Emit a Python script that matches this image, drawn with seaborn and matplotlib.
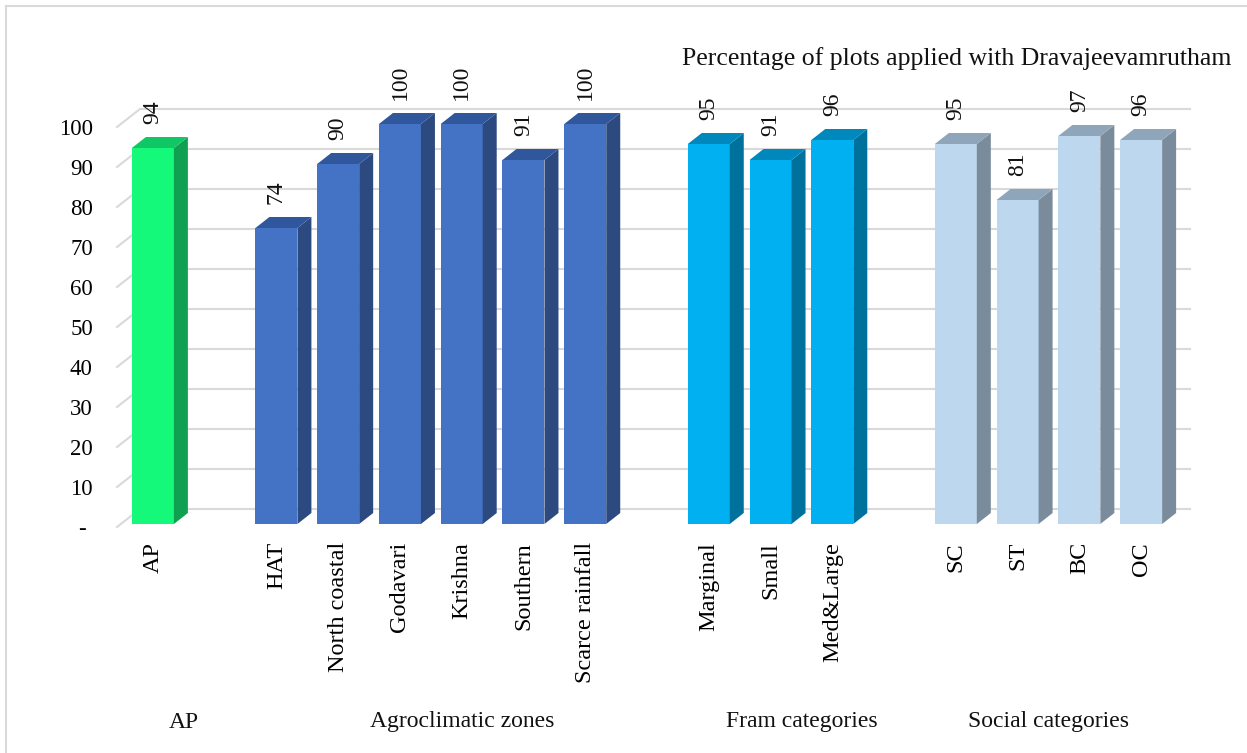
import numpy as np
import pandas as pd
import matplotlib
matplotlib.use("Agg")
import matplotlib.pyplot as plt
from matplotlib.patches import Polygon, Rectangle
from matplotlib.transforms import ScaledTranslation
import seaborn as sns

# ---------------- data ----------------
categories = ["AP", "HAT", "North coastal", "Godavari", "Krishna", "Southern",
              "Scarce rainfall", "Marginal", "Small", "Med&Large",
              "SC", "ST", "BC", "OC"]
values = [94, 74, 90, 100, 100, 91, 100, 95, 91, 96, 95, 81, 97, 96]
groups = ["AP"] + ["Agroclimatic zones"] * 6 + ["Fram categories"] * 3 + ["Social categories"] * 4
group_names = ["AP", "Agroclimatic zones", "Fram categories", "Social categories"]
title = "Percentage of plots applied with Dravajeevamrutham"
ytick_values = [0, 10, 20, 30, 40, 50, 60, 70, 80, 90, 100]
ytick_labels = ["- ", "10", "20", "30", "40", "50", "60", "70", "80", "90", "100"]

# spacer slots between groups (belong to preceding group)
order = ["AP", " ", "HAT", "North coastal", "Godavari", "Krishna", "Southern",
         "Scarce rainfall", "  ", "Marginal", "Small", "Med&Large", "   ",
         "SC", "ST", "BC", "OC"]
slot_group = ["AP", "AP"] + ["Agroclimatic zones"] * 7 + ["Fram categories"] * 4 + ["Social categories"] * 4

front = {"AP": "#14F97A", "Agroclimatic zones": "#4472C4",
         "Fram categories": "#00B0F0", "Social categories": "#BDD7EE"}
side = {"AP": "#10A052", "Agroclimatic zones": "#2C4A80",
        "Fram categories": "#00719C", "Social categories": "#7A8B9B"}
top = {"AP": "#10C765", "Agroclimatic zones": "#30569C",
       "Fram categories": "#0088BD", "Social categories": "#8FA5BA"}

df = pd.DataFrame({"category": categories, "value": values, "group": groups})

# ---------------- figure ----------------
W, H, DPI = 1247, 753, 100
plt.rcParams["font.family"] = ["Liberation Serif", "DejaVu Serif"]
fig = plt.figure(figsize=(W / DPI, H / DPI), dpi=DPI)
fig.patch.set_facecolor("white")
fig.patches.append(Rectangle((6 / W, -0.01), 1.1, 1 - 6 / H + 0.01, transform=fig.transFigure,
                             fill=False, edgecolor="#D9D9D9", linewidth=1.5, zorder=0))

ax_l, ax_r, ax_b, ax_t = 122, 1172, 524, 124   # pixel coords (top-origin)
ax = fig.add_axes([ax_l / W, (H - ax_b) / H, (ax_r - ax_l) / W, (ax_b - ax_t) / H])
ax.set_facecolor("none")

sns.barplot(data=df, x="category", y="value", hue="group", order=order,
            palette=front, dodge=False, width=0.68, legend=False, ax=ax,
            saturation=1, zorder=3, linewidth=0)

ax.set_xlim(-0.5, len(order) - 0.5)
ax.set_ylim(0, 100)

px_x = (ax_r - ax_l) / len(order)
px_y = (ax_b - ax_t) / 100.0

# depth of bars (pixels -> data)
bdx, bdy = 14 / px_x, 11 / px_y
# back wall gridlines
gfx, gfy = -5 / px_x, -3 / px_y
gbx, gby = 18 / px_x, 15 / px_y
x0 = -0.5
x_end = len(order) - 0.5 + gbx
for yv in ytick_values:
    ax.plot([x0 + gfx, x0 + gbx, x_end], [yv + gfy, yv + gby, yv + gby],
            color="#D9D9D9", linewidth=1.5, clip_on=False, zorder=1)

# 3D faces
for p in ax.patches:
    h = p.get_height()
    if not np.isfinite(h) or h <= 0:
        continue
    x = p.get_x()
    w = p.get_width()
    xc = x + w / 2
    gi = int(round(xc))
    g = slot_group[gi]
    p.set_clip_on(False)
    x1 = x + w
    ax.add_patch(Polygon([(x1, 0), (x1 + bdx, bdy), (x1 + bdx, h + bdy), (x1, h)],
                         closed=True, facecolor=side[g], edgecolor="none",
                         zorder=3, clip_on=False))
    ax.add_patch(Polygon([(x, h), (x + bdx, h + bdy), (x1 + bdx, h + bdy), (x1, h)],
                         closed=True, facecolor=top[g], edgecolor="none",
                         zorder=3, clip_on=False))
    ax.annotate(f"{h:.0f}", (xc, h), xytext=(0, 24), textcoords="offset pixels",
                rotation=90, ha="center", va="bottom", fontsize=17, color="#111111",
                annotation_clip=False)

# axes styling
for s in ax.spines.values():
    s.set_visible(False)
ax.set_xlabel("")
ax.set_ylabel("")
ax.set_yticks(ytick_values)
ax.set_yticklabels(ytick_labels, fontsize=16.5)
ax.tick_params(axis="y", length=0, pad=21)
for lbl in ax.get_yticklabels():
    lbl.set_transform(lbl.get_transform() + ScaledTranslation(0, -3 / DPI, fig.dpi_scale_trans))
ax.set_xticks(range(len(order)))
ax.set_xticklabels(order, rotation=90, fontsize=17.5, va="top", ha="center")
ax.tick_params(axis="x", length=0, pad=13)
ax.grid(False)

# group labels
xt = ax.get_xaxis_transform()
for gname in group_names:
    idx = [i for i, g in enumerate(slot_group) if g == gname]
    cx = (min(idx) + max(idx)) / 2
    ax.text(cx, -(722 - ax_b) / (ax_b - ax_t), gname, transform=xt,
            ha="center", va="center", fontsize=17, color="#111111")

fig.text(957 / W, 1 - 59 / H, title, ha="center", va="center", fontsize=18.5, color="#111111")

fig.savefig("out.png", dpi=DPI, facecolor="white")
